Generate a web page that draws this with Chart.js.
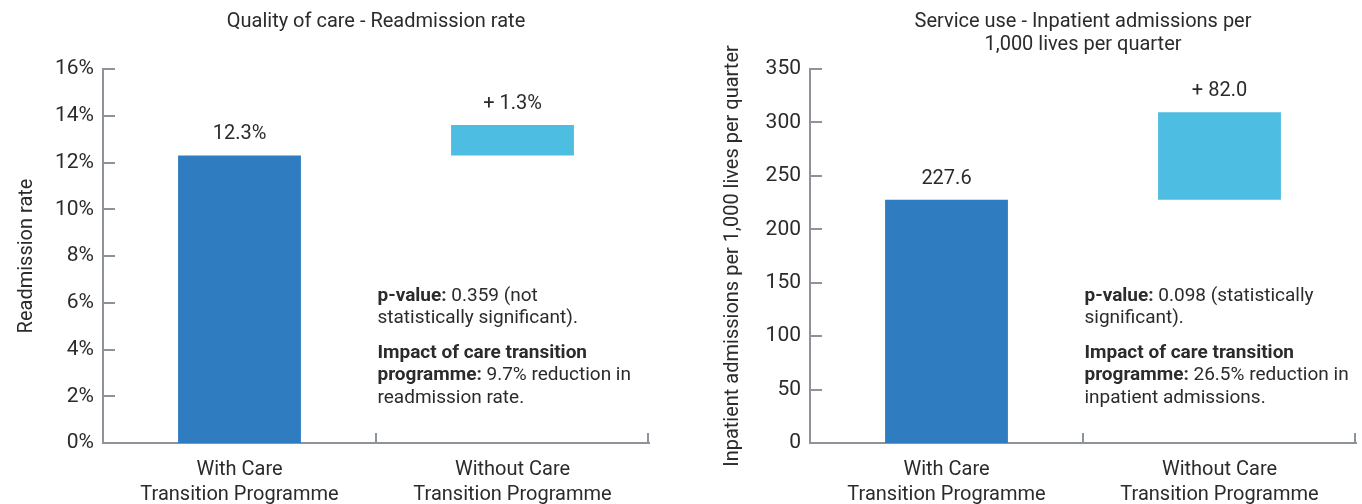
<!DOCTYPE html>
<html>
<head>
<meta charset="utf-8">
<script src="https://cdn.jsdelivr.net/npm/chart.js@4/dist/chart.umd.min.js"></script>
<style>
  html, body { margin: 0; padding: 0; background: #ffffff; }
  #wrap { position: relative; width: 1362px; height: 504px; }
  .panel { position: absolute; top: 0; width: 681px; height: 504px; }
</style>
</head>
<body>
<div id="wrap">
  <div class="panel" style="left:0"><canvas id="c1"></canvas></div>
  <div class="panel" style="left:681px"><canvas id="c2"></canvas></div>
</div>
<script>
// ---------- data ----------
const categories = [["With Care", "Transition Programme"], ["Without Care", "Transition Programme"]];

const readmissionTitle = ["Quality of care - Readmission rate"];
const readmissionAxisTitle = "Readmission rate";
const readmissionValues = [12.3, 1.3];          // with programme, extra without programme
const readmissionLabels = ["12.3%", "+ 1.3%"];
const readmissionTicks = [0, 2, 4, 6, 8, 10, 12, 14, 16];
const readmissionNotes = [
  [["p-value:", true], [" 0.359 (not", false]],
  [["statistically significant).", false]],
  null,
  [["Impact of care transition", true]],
  [["programme:", true], [" 9.7% reduction in", false]],
  [["readmission rate.", false]]
];

const admissionsTitle = ["Service use - Inpatient admissions per", "1,000 lives per quarter"];
const admissionsAxisTitle = "Inpatient admissions per 1,000 lives per quarter";
const admissionsValues = [227.6, 82.0];
const admissionsLabels = ["227.6", "+ 82.0"];
const admissionsTicks = [0, 50, 100, 150, 200, 250, 300, 350];
const admissionsNotes = [
  [["p-value:", true], [" 0.098 (statistically", false]],
  [["significant).", false]],
  null,
  [["Impact of care transition", true]],
  [["programme:", true], [" 26.5% reduction in", false]],
  [["inpatient admissions.", false]]
];

// ---------- styles ----------
const textColor = '#2b2b2b';
const axisColor = '#8e9399';
const barColors = ['#307cc0', '#4ebde2'];
const mainFont = 'Roboto, "Liberation Sans", sans-serif';

const extrasPlugin = {
  id: 'extras',
  afterDraw(chart, args, opts) {
    const { ctx, chartArea: a, scales: { x, y } } = chart;
    ctx.save();
    // inward tick marks
    ctx.strokeStyle = axisColor;
    ctx.lineWidth = 2;
    ctx.beginPath();
    y.ticks.forEach(t => {
      const py = Math.round(y.getPixelForValue(t.value));
      if (Math.abs(py - a.bottom) < 1) return;
      ctx.moveTo(a.left, py);
      ctx.lineTo(a.left + 12, py);
    });
    const n = x.ticks.length;
    const bounds = [];
    for (let i = 1; i <= n; i++) {
      const px = i < n ? (x.getPixelForValue(i - 1) + x.getPixelForValue(i)) / 2 : a.right - 1;
      bounds.push(px);
      ctx.moveTo(Math.round(px), a.bottom);
      ctx.lineTo(Math.round(px), a.bottom - 10);
    }
    ctx.stroke();

    // value labels
    ctx.fillStyle = textColor;
    ctx.font = '20px ' + mainFont;
    ctx.textAlign = 'center';
    ctx.textBaseline = 'middle';
    const meta = chart.getDatasetMeta(0);
    meta.data.forEach((bar, i) => {
      const top = Math.min(bar.y, bar.base);
      ctx.fillText(opts.labels[i], bar.x, top - 21);
    });

    // title
    const cx = (a.left + a.right) / 2;
    opts.title.forEach((line, i) => ctx.fillText(line, cx, 22 + i * 23));

    // notes
    ctx.textAlign = 'left';
    let ly = a.top + 227;
    const nx = bounds[0] + 1.5;
    opts.notes.forEach(line => {
      if (!line) { ly += 12; return; }
      let lx = nx;
      line.forEach(([txt, bold]) => {
        ctx.font = (bold ? 'bold ' : '') + '19px ' + mainFont;
        ctx.fillText(txt, lx, ly);
        lx += ctx.measureText(txt).width;
      });
      ly += 22.5;
    });
    ctx.restore();
  }
};

function makeChart(id, values, labels, ticks, title, axisTitle, notes, fmt, cfg) {
  const floating = values.map((v, i) => i === 0 ? [0, v] : [values[0], values[0] + v]);
  return new Chart(document.getElementById(id), {
    type: 'bar',
    data: {
      labels: categories,
      datasets: [{
        data: floating,
        backgroundColor: barColors,
        borderWidth: 0,
        barPercentage: 0.45,
        categoryPercentage: 1
      }]
    },
    options: {
      responsive: true,
      maintainAspectRatio: false,
      animation: false,
      events: [],
      layout: { padding: { top: 69, right: cfg.padRight, bottom: 0, left: 0 } },
      plugins: {
        legend: { display: false },
        tooltip: { enabled: false },
        title: { display: false },
        extras: { labels: labels, title: title, notes: notes }
      },
      scales: {
        x: {
          offset: true,
          grid: { display: false, drawTicks: false },
          border: { display: true, color: axisColor, width: 2 },
          ticks: {
            color: textColor,
            padding: 14,
            maxRotation: 0,
            autoSkip: false,
            font: { family: mainFont, size: 20, lineHeight: '25px' }
          },
          afterFit: s => { s.height = 61; }
        },
        y: {
          min: ticks[0],
          max: ticks[ticks.length - 1],
          afterBuildTicks: s => { s.ticks = ticks.map(v => ({ value: v })); },
          grid: { display: false, drawTicks: false },
          border: { display: true, color: axisColor, width: 2 },
          ticks: {
            color: textColor,
            padding: 9,
            font: { family: mainFont, size: 21 },
            callback: v => fmt(v)
          },
          title: {
            display: true,
            text: axisTitle,
            color: textColor,
            padding: { top: cfg.titlePad, bottom: 0 },
            font: { family: mainFont, size: 20 }
          },
          afterFit: s => { s.width = cfg.yWidth; }
        }
      }
    },
    plugins: [extrasPlugin]
  });
}

makeChart('c1', readmissionValues, readmissionLabels, readmissionTicks, readmissionTitle,
  readmissionAxisTitle, readmissionNotes, v => v + '%', { padRight: 32, yWidth: 103, titlePad: 15 });
makeChart('c2', admissionsValues, admissionsLabels, admissionsTicks, admissionsTitle,
  admissionsAxisTitle, admissionsNotes, v => String(v), { padRight: 6, yWidth: 129, titlePad: 40 });
</script>
</body>
</html>
